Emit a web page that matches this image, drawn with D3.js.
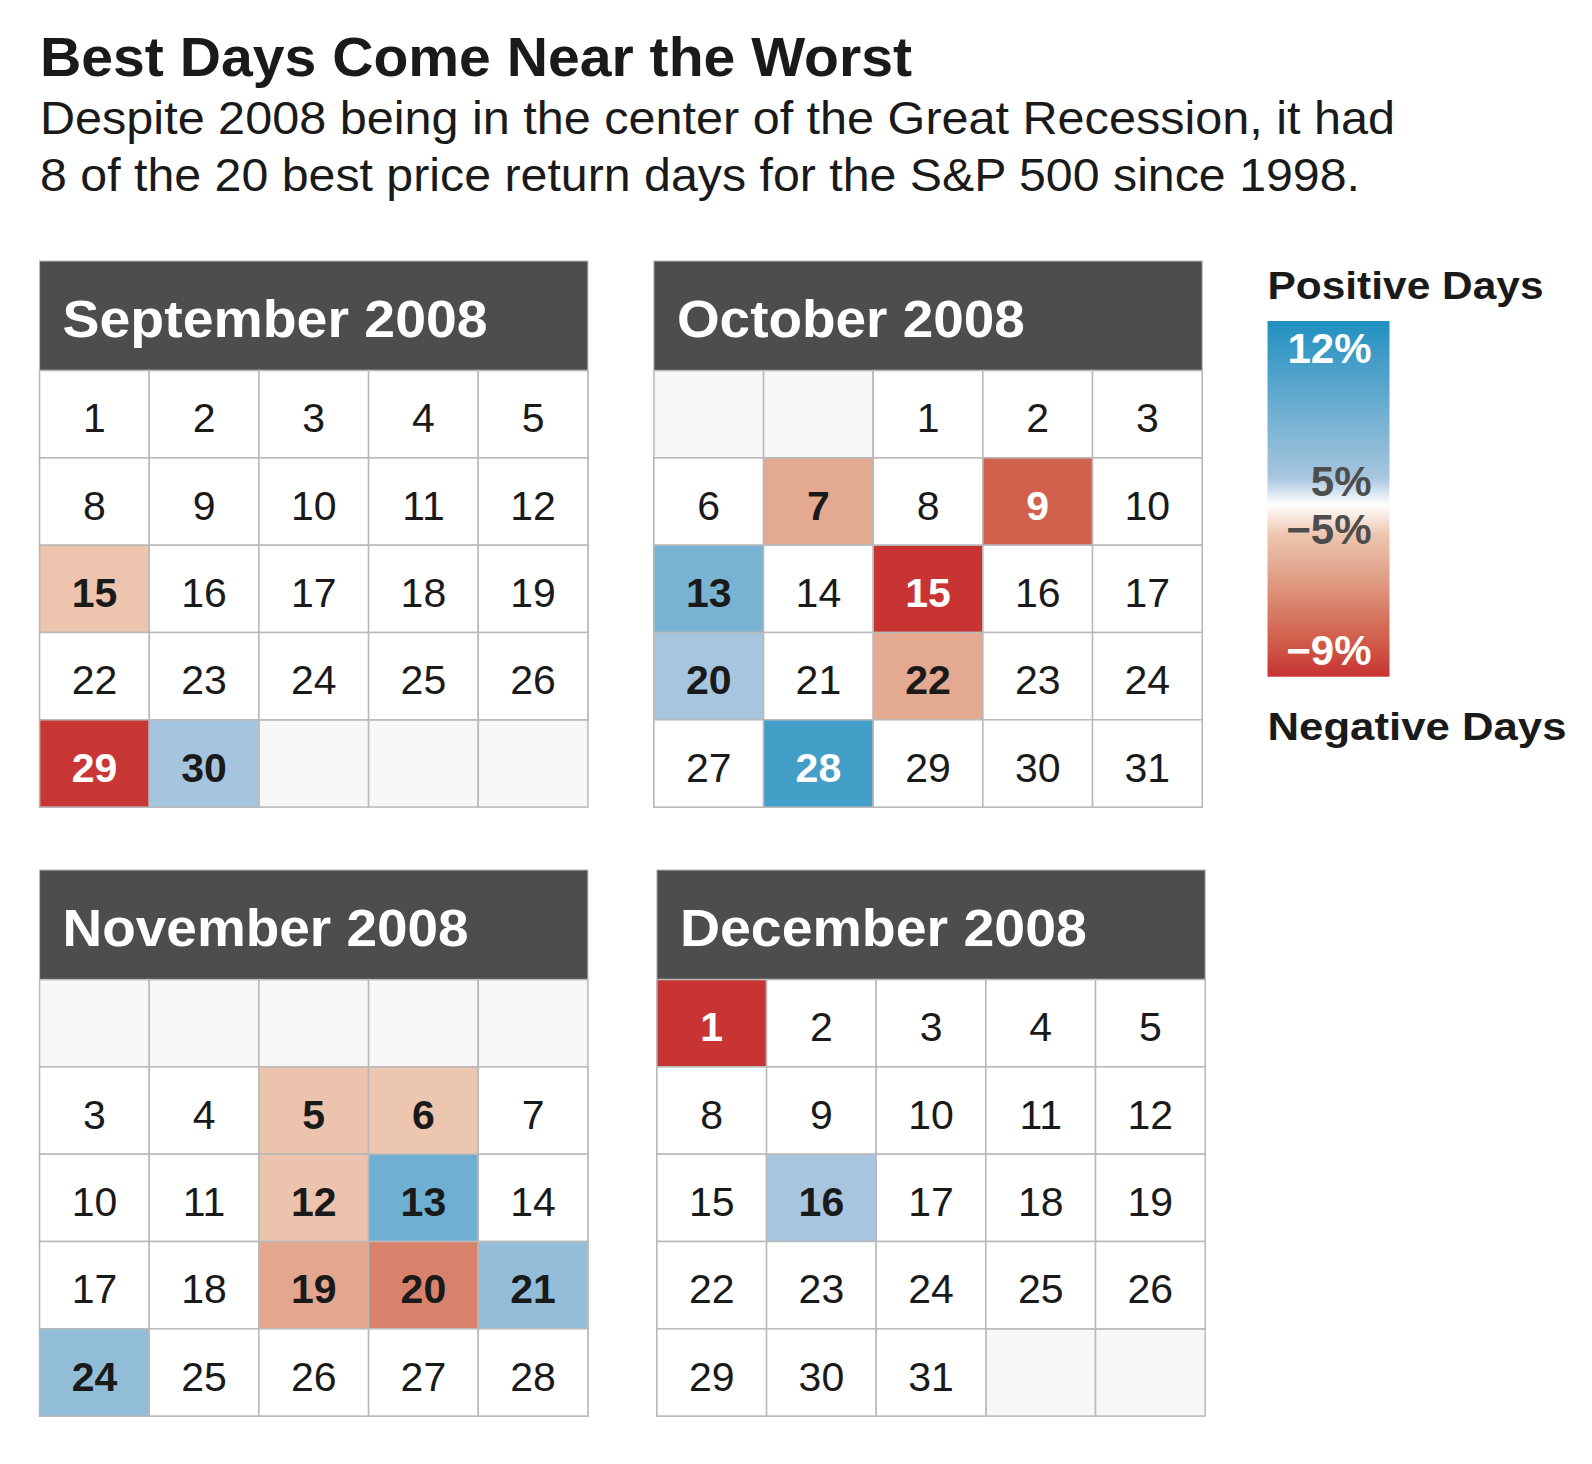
<!DOCTYPE html>
<html>
<head>
<meta charset="utf-8">
<script src="https://cdn.jsdelivr.net/npm/d3@7"></script>
<style>
  html, body { margin: 0; padding: 0; background: #ffffff; }
  svg { display: block; }
  text { font-family: "Liberation Sans", Arial, Helvetica, sans-serif; }
</style>
</head>
<body>
<svg id="chart" width="1592" height="1464"></svg>
<script>
// ---------------- DATA ----------------
const chartTitle = "Best Days Come Near the Worst";
const subtitleLines = [
  "Despite 2008 being in the center of the Great Recession, it had",
  "8 of the 20 best price return days for the S&P 500 since 1998."
];
const year = 2008;
const monthLabels = ["September 2008", "October 2008", "November 2008", "December 2008"];
const monthNumbers = [8, 9, 10, 11]; // JS month index

// daily price returns (%) of highlighted days
const sepDays = [15, 29, 30];
const sepReturns = [-5.05, -8.9, 5.1];
const octDays = [7, 9, 13, 15, 20, 22, 28];
const octReturns = [-5.9, -7.9, 7.4, -9.0, 5.0, -5.9, 10.2];
const novDays = [5, 6, 12, 13, 19, 20, 21, 24];
const novReturns = [-5.1, -5.0, -5.1, 7.9, -6.0, -7.0, 6.0, 6.1];
const decDays = [1, 16];
const decReturns = [-9.0, 5.0];

const legendTicks = [12, 5, -5, -9];
const legendTickLabels = ["12%", "5%", "\u22125%", "\u22129%"];
const legendTopLabel = "Positive Days";
const legendBottomLabel = "Negative Days";

// ---------------- SCALES ----------------
const color = d3.scaleLinear()
  .domain([-9, -8, -7, -6, -5, 0, 5, 12])
  .range(["#c83333", "#d05c49", "#d9826b", "#e3a68e", "#edc6b0", "#ffffff", "#a7c5de", "#2190c0"])
  .clamp(true);

// ---------------- LAYOUT ----------------
const svg = d3.select("#chart");
const FONT_DARK = "#1a1a1a";

function fitWidth(sel, target) {
  sel.each(function () {
    const w = this.getComputedTextLength();
    if (w > 0) d3.select(this).attr("textLength", target).attr("lengthAdjust", "spacingAndGlyphs");
  });
}

// Title & subtitle
svg.append("text")
  .attr("x", 40).attr("y", 76)
  .attr("font-size", 56).attr("font-weight", "bold").attr("fill", FONT_DARK)
  .text(chartTitle)
  .call(fitWidth, 872);

const subWidths = [1355, 1320];
svg.selectAll("text.sub").data(subtitleLines).join("text")
  .attr("class", "sub")
  .attr("x", 40).attr("y", (d, i) => 134 + i * 57)
  .attr("font-size", 47).attr("fill", FONT_DARK)
  .text(d => d)
  .each(function (d, i) { d3.select(this).call(fitWidth, subWidths[i]); });

// Calendars
const calWidth = 548.3, headerH = 109.6, rowH = 87.3;
const panels = [
  { left: 39.6, top: 261, days: sepDays, vals: sepReturns, hw: 425 },
  { left: 653.9, top: 261, days: octDays, vals: octReturns, hw: 348 },
  { left: 39.6, top: 870, days: novDays, vals: novReturns, hw: 406 },
  { left: 656.9, top: 870, days: decDays, vals: decReturns, hw: 407 }
];

panels.forEach((p, mi) => {
  const m = monthNumbers[mi];
  const g = svg.append("g");
  const x = d3.scaleBand().domain(d3.range(5)).range([p.left, p.left + calWidth]);
  const y = d3.scaleBand().domain(d3.range(5)).range([p.top + headerH, p.top + headerH + 5 * rowH]);

  // header
  g.append("rect")
    .attr("x", p.left).attr("y", p.top)
    .attr("width", calWidth).attr("height", headerH)
    .attr("fill", "#4d4d4d").attr("stroke", "#b9b9b9").attr("stroke-width", 1);
  g.append("text")
    .attr("x", p.left + 23).attr("y", p.top + 76)
    .attr("font-size", 51).attr("font-weight", "bold").attr("fill", "#ffffff")
    .text(monthLabels[mi])
    .call(fitWidth, p.hw);

  // empty grid background
  const cells = [];
  for (let r = 0; r < 5; r++) for (let c = 0; c < 5; c++) cells.push({ r, c });
  g.selectAll("rect.bg").data(cells).join("rect")
    .attr("class", "bg")
    .attr("x", d => x(d.c)).attr("y", d => y(d.r))
    .attr("width", x.bandwidth()).attr("height", y.bandwidth())
    .attr("fill", "#f7f7f7").attr("stroke", "#b9b9b9").attr("stroke-width", 1.5);

  // days
  const first = new Date(year, m, 1);
  const next = new Date(year, m + 1, 1);
  const weekStart = d3.timeMonday.floor(first);
  const valueByDay = new Map(p.days.map((d, i) => [d, p.vals[i]]));
  const days = d3.timeDay.range(first, next)
    .filter(d => d.getDay() >= 1 && d.getDay() <= 5)
    .map(d => ({
      day: d.getDate(),
      c: d.getDay() - 1,
      r: d3.timeMonday.count(weekStart, d),
      v: valueByDay.get(d.getDate())
    }));

  g.selectAll("rect.day").data(days).join("rect")
    .attr("class", "day")
    .attr("x", d => x(d.c)).attr("y", d => y(d.r))
    .attr("width", x.bandwidth()).attr("height", y.bandwidth())
    .attr("fill", d => d.v === undefined ? "#ffffff" : color(d.v))
    .attr("stroke", "#b9b9b9").attr("stroke-width", 1.5);

  g.selectAll("text.day").data(days).join("text")
    .attr("class", "day")
    .attr("x", d => x(d.c) + x.bandwidth() / 2)
    .attr("y", d => y(d.r) + rowH * 0.708)
    .attr("text-anchor", "middle")
    .attr("font-size", 41)
    .attr("font-weight", d => d.v === undefined ? "normal" : "bold")
    .attr("fill", d => (d.v !== undefined && d3.lab(color(d.v)).l < 62) ? "#ffffff" : FONT_DARK)
    .text(d => d.day);
});

// ---------------- LEGEND ----------------
const lgX = 1267.5, lgW = 122, lgTop = 321, lgH = 355.7;
const pos = d3.scaleLinear()
  .domain([12, 5, 0, -5, -9])
  .range([lgTop, lgTop + 0.44 * lgH, lgTop + 0.517 * lgH, lgTop + 0.6 * lgH, lgTop + lgH]);

const defs = svg.append("defs");
const grad = defs.append("linearGradient").attr("id", "lg")
  .attr("x1", 0).attr("y1", 0).attr("x2", 0).attr("y2", 1);
d3.range(0, 1.0001, 0.01).forEach(t => {
  const v = pos.invert(lgTop + t * lgH);
  grad.append("stop").attr("offset", t).attr("stop-color", color(v));
});

svg.append("text")
  .attr("x", lgX).attr("y", 298.5)
  .attr("font-size", 39).attr("font-weight", "bold").attr("fill", FONT_DARK)
  .text(legendTopLabel).call(fitWidth, 276);

svg.append("rect")
  .attr("x", lgX).attr("y", lgTop).attr("width", lgW).attr("height", lgH)
  .attr("fill", "url(#lg)");

svg.selectAll("text.lgtick").data(legendTicks).join("text")
  .attr("class", "lgtick")
  .attr("x", lgX + 104)
  .attr("y", d => d === 12 ? pos(d) + 42 : d === -9 ? pos(d) - 12 : d > 0 ? pos(d) + 18 : pos(d) + 10)
  .attr("text-anchor", "end")
  .attr("font-size", 42).attr("font-weight", "bold")
  .attr("fill", d => Math.abs(d) > 6 ? "#ffffff" : "#4d4d4d")
  .text((d, i) => legendTickLabels[i]);

svg.append("text")
  .attr("x", lgX).attr("y", 740)
  .attr("font-size", 39).attr("font-weight", "bold").attr("fill", FONT_DARK)
  .text(legendBottomLabel).call(fitWidth, 299);
</script>
</body>
</html>
